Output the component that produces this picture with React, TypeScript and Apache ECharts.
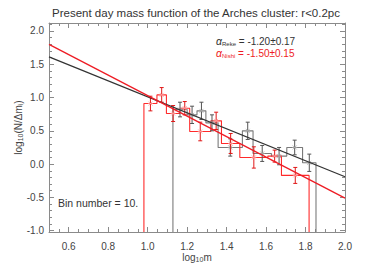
import React, { useEffect, useRef } from "react";
import * as echarts from "echarts";

// ---- data ----
const xMajorTicks = [0.6, 0.8, 1.0, 1.2, 1.4, 1.6, 1.8, 2.0];
const yMajorTicks = [-1.0, -0.5, 0.0, 0.5, 1.0, 1.5, 2.0];

const blackEdges = [1.128, 1.2, 1.25, 1.295, 1.357, 1.48, 1.534, 1.627, 1.705, 1.785, 1.853];
const blackValues = [0.82, 0.74, 0.8, 0.62, 0.25, 0.5, 0.16, 0.12, 0.25, 0.02];
const blackErrors = [0.11, 0.13, 0.13, 0.12, 0.13, 0.13, 0.12, 0.13, 0.11, 0.13];

const redEdges = [0.981, 1.047, 1.095, 1.163, 1.213, 1.32, 1.374, 1.467, 1.609, 1.678, 1.818];
const redValues = [0.91, 1.04, 0.76, 0.84, 0.49, 0.65, 0.31, 0.1, 0.12, -0.17];
const redErrors = [0.11, 0.11, 0.12, 0.1, 0.14, 0.13, 0.15, 0.16, 0.09, 0.12];

const blackFit = [
  [0.5, 1.61],
  [2.0, -0.19],
];
const redFit = [
  [0.5, 1.8],
  [2.0, -0.51],
];

const X_MIN = 0.5;
const X_MAX = 2.0;
const Y_MIN = -1.02;
const Y_MAX = 2.12;

function minorTicks(lo: number, hi: number, step: number, majors: number[]) {
  const out: number[] = [];
  for (let k = Math.ceil(lo / step - 1e-9); k * step <= hi + 1e-9; k++) {
    const v = +(k * step).toFixed(4);
    if (!majors.some((m) => Math.abs(m - v) < 1e-6)) out.push(v);
  }
  return out;
}

const xMinorTicks = minorTicks(X_MIN, X_MAX, 0.05, xMajorTicks);
const yMinorTicks = minorTicks(-1.0, 2.1, 0.1, yMajorTicks);

function stepPoints(edges: number[], values: number[], base: number) {
  const pts: number[][] = [[edges[0], base]];
  values.forEach((v, i) => {
    pts.push([edges[i], v], [edges[i + 1], v]);
  });
  pts.push([edges[edges.length - 1], base]);
  return pts;
}

function errPoints(edges: number[], values: number[], errs: number[]) {
  return values.map((v, i) => [(edges[i] + edges[i + 1]) / 2, v, errs[i]]);
}

const FONT = "Liberation Sans, Arial, Helvetica, sans-serif";
const FRAME = "#8a8a8a";
const LABEL = "#444";

function makeErrRender(color: string, markColor: string) {
  return (params: any, api: any) => {
    const x = api.value(0);
    const y = api.value(1);
    const e = api.value(2);
    const t = api.coord([x, y + e]);
    const b = api.coord([x, y - e]);
    const c = api.coord([x, y]);
    const st = { stroke: color, lineWidth: 1 };
    const ms = { stroke: markColor, lineWidth: 0.8 };
    const m = 2;
    return {
      type: "group",
      children: [
        { type: "line", shape: { x1: t[0], y1: t[1], x2: b[0], y2: b[1] }, style: st },
        { type: "line", shape: { x1: t[0] - 2, y1: t[1], x2: t[0] + 2, y2: t[1] }, style: st },
        { type: "line", shape: { x1: b[0] - 2, y1: b[1], x2: b[0] + 2, y2: b[1] }, style: st },
        { type: "line", shape: { x1: c[0] - m, y1: c[1] - m, x2: c[0] + m, y2: c[1] + m }, style: ms },
        { type: "line", shape: { x1: c[0] - m, y1: c[1] + m, x2: c[0] + m, y2: c[1] - m }, style: ms },
        { type: "line", shape: { x1: c[0] - m - 0.5, y1: c[1], x2: c[0] + m + 0.5, y2: c[1] }, style: ms },
      ],
    };
  };
}

const nameRich = {
  s: { fontSize: 7, lineHeight: 7, verticalAlign: "bottom", color: LABEL, fontFamily: FONT },
};

function xAxisDef(position: string, ticks: number[], len: number, labels: boolean, line: boolean) {
  return {
    type: "value",
    min: X_MIN,
    max: X_MAX,
    position,
    axisLine: { show: line, onZero: false, lineStyle: { color: FRAME, width: 1 } },
    axisTick: { show: true, inside: true, length: len, customValues: ticks, lineStyle: { color: FRAME, width: 1 } },
    axisLabel: labels
      ? {
          show: true,
          customValues: ticks,
          formatter: (v: number) => v.toFixed(1),
          margin: 9,
          fontSize: 10,
          color: LABEL,
          fontFamily: FONT,
        }
      : { show: false },
    splitLine: { show: false },
    ...(labels
      ? {
          name: "log{s|10}m",
          nameLocation: "middle",
          nameGap: 20,
          nameMoveOverlap: false,
          nameTextStyle: {
            fontSize: 10,
            color: LABEL,
            fontFamily: FONT,
            lineHeight: 11,
            rich: nameRich,
          },
        }
      : {}),
  };
}

function yAxisDef(position: string, ticks: number[], len: number, labels: boolean, line: boolean) {
  return {
    type: "value",
    min: Y_MIN,
    max: Y_MAX,
    position,
    axisLine: { show: line, onZero: false, lineStyle: { color: FRAME, width: 1 } },
    axisTick: { show: true, inside: true, length: len, customValues: ticks, lineStyle: { color: FRAME, width: 1 } },
    axisLabel: labels
      ? {
          show: true,
          customValues: ticks,
          formatter: (v: number) => v.toFixed(1),
          margin: 5,
          fontSize: 10,
          color: LABEL,
          fontFamily: FONT,
        }
      : { show: false },
    splitLine: { show: false },
    ...(labels
      ? {
          name: "log{s|10}(N/Δm{s|i})",
          nameLocation: "middle",
          nameRotate: 90,
          nameGap: 25,
          nameMoveOverlap: false,
          nameTextStyle: {
            fontSize: 10,
            color: LABEL,
            fontFamily: FONT,
            lineHeight: 11,
            rich: nameRich,
          },
        }
      : {}),
  };
}

export default function App() {
  const ref = useRef<HTMLDivElement>(null);

  useEffect(() => {
    document.body.style.margin = "0";
    if (!ref.current) return;
    const chart = echarts.init(ref.current, undefined, { renderer: "svg" });

    const option: any = {
      animation: false,
      backgroundColor: "#fff",
      grid: { left: 49, right: 21, top: 23, bottom: 33, containLabel: false, outerBoundsMode: "none" },
      xAxis: [
        xAxisDef("bottom", xMajorTicks, 5, true, true),
        xAxisDef("bottom", xMinorTicks, 3, false, false),
        xAxisDef("top", xMajorTicks, 5, false, true),
        xAxisDef("top", xMinorTicks, 3, false, false),
      ],
      yAxis: [
        yAxisDef("left", yMajorTicks, 5, true, true),
        yAxisDef("left", yMinorTicks, 3, false, false),
        yAxisDef("right", yMajorTicks, 5, false, true),
        yAxisDef("right", yMinorTicks, 3, false, false),
      ],
      series: [
        {
          type: "line",
          data: stepPoints(blackEdges, blackValues, Y_MIN),
          showSymbol: false,
          lineStyle: { color: "#7a7a7a", width: 1.1 },
          z: 2,
        },
        {
          type: "line",
          data: stepPoints(redEdges, redValues, Y_MIN),
          showSymbol: false,
          lineStyle: { color: "#ff2a2a", width: 1.1 },
          z: 3,
        },
        {
          type: "custom",
          renderItem: makeErrRender("#555", "#aaa"),
          data: errPoints(blackEdges, blackValues, blackErrors),
          z: 4,
        },
        {
          type: "custom",
          renderItem: makeErrRender("#e01818", "#ff9a9a"),
          data: errPoints(redEdges, redValues, redErrors),
          z: 5,
        },
        {
          type: "line",
          data: blackFit,
          showSymbol: false,
          lineStyle: { color: "#333", width: 1.3 },
          z: 6,
        },
        {
          type: "line",
          data: redFit,
          showSymbol: false,
          lineStyle: { color: "#ee1c24", width: 1.3 },
          z: 7,
        },
      ],
      graphic: [
        {
          type: "text",
          x: 196,
          y: 13,
          style: {
            text: "Present day mass function of the Arches cluster: r<0.2pc",
            textAlign: "center",
            textVerticalAlign: "middle",
            fontSize: 11.5,
            fontFamily: FONT,
            fill: "#333",
          },
        },
        {
          type: "text",
          x: 216,
          y: 41,
          style: {
            text: "{a|α}{s|Reke} = -1.20±0.17",
            textVerticalAlign: "middle",
            fontSize: 10,
            fontFamily: FONT,
            fill: "#333",
            rich: {
              a: { fontSize: 10.5, fontStyle: "italic", fontFamily: FONT, fill: "#333", lineHeight: 12 },
              s: { fontSize: 6, fontFamily: FONT, fill: "#333", lineHeight: 5, verticalAlign: "bottom" },
            },
          },
        },
        {
          type: "text",
          x: 216,
          y: 53,
          style: {
            text: "{a|α}{s|Nishi} = -1.50±0.15",
            textVerticalAlign: "middle",
            fontSize: 10,
            fontFamily: FONT,
            fill: "#ee1c24",
            rich: {
              a: { fontSize: 10.5, fontStyle: "italic", fontFamily: FONT, fill: "#ee1c24", lineHeight: 12 },
              s: { fontSize: 6, fontFamily: FONT, fill: "#ee1c24", lineHeight: 5, verticalAlign: "bottom" },
            },
          },
        },
        {
          type: "text",
          x: 58,
          y: 203,
          style: {
            text: "Bin number = 10.",
            textVerticalAlign: "middle",
            fontSize: 10.5,
            fontFamily: FONT,
            fill: "#333",
          },
        },
      ],
    };

    chart.setOption(option);
    return () => chart.dispose();
  }, []);

  return <div ref={ref} style={{ width: 366, height: 265 }} />;
}
